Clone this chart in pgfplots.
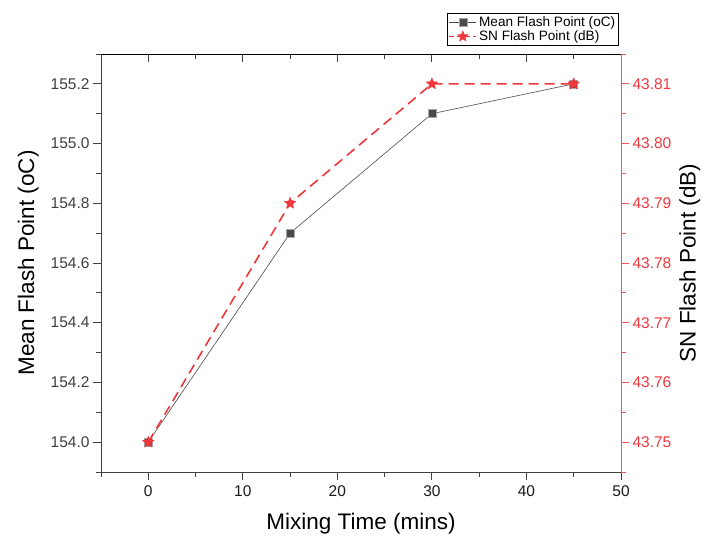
\documentclass[border=0pt]{standalone}
\usepackage{pgfplots}
\pgfplotsset{compat=1.18}
\usepackage{fontspec}
\setmainfont{Liberation Sans}
\definecolor{dgray}{RGB}{74,74,74}
\definecolor{myred}{RGB}{240,55,60}
\definecolor{axred}{RGB}{240,90,90}
\pgfdeclareplotmark{fstar}{%
  \pgfpathmoveto{\pgfpointpolar{90}{\pgfplotmarksize}}%
  \pgfpathlineto{\pgfpointpolar{126}{0.45\pgfplotmarksize}}%
  \pgfpathlineto{\pgfpointpolar{162}{\pgfplotmarksize}}%
  \pgfpathlineto{\pgfpointpolar{198}{0.45\pgfplotmarksize}}%
  \pgfpathlineto{\pgfpointpolar{234}{\pgfplotmarksize}}%
  \pgfpathlineto{\pgfpointpolar{270}{0.45\pgfplotmarksize}}%
  \pgfpathlineto{\pgfpointpolar{306}{\pgfplotmarksize}}%
  \pgfpathlineto{\pgfpointpolar{342}{0.45\pgfplotmarksize}}%
  \pgfpathlineto{\pgfpointpolar{18}{\pgfplotmarksize}}%
  \pgfpathlineto{\pgfpointpolar{54}{0.45\pgfplotmarksize}}%
  \pgfpathclose
  \pgfusepathqfillstroke}
\begin{document}
\begin{tikzpicture}
\pgfplotsset{every axis/.append style={
  width=520pt, height=418pt, scale only axis,
  xmin=-5, xmax=50,
  /pgf/number format/assume math mode=true,
  tick label style={font=\fontsize{15.5}{18}\selectfont},
  label style={font=\fontsize{22.5}{26}\selectfont},
  major tick length=8pt, minor tick length=5pt,
  tick align=outside,
}}
% main (left) axis
\begin{axis}[
  ymin=153.9, ymax=155.3,
  axis x line*=bottom, axis y line*=left,
  axis line style={black!75, line width=0.9pt},
  every tick/.style={black!75, line width=0.9pt},
  xtick={0,10,...,50}, minor xtick={-5,5,...,45},
  ytick={154.0,154.2,...,155.2}, minor ytick={153.9,154.1,...,155.3},
  yticklabel style={/pgf/number format/fixed, /pgf/number format/fixed zerofill, /pgf/number format/precision=1, text=black!75},
  xticklabel style={text=black!90, yshift=-2pt},
  xlabel={Mixing Time (mins)},
  xlabel style={yshift=-10pt},
  ylabel={Mean Flash Point (oC)},
  ylabel style={yshift=5pt},
  legend style={at={(1,1)}, anchor=south east, yshift=8pt, xshift=-2pt,
    draw=black, line width=0.6pt, font=\fontsize{13.6}{15}\selectfont,
    inner sep=1.5pt, row sep=-1.5pt, legend cell align=left},
  legend image code/.code={\draw[#1] (0cm,0cm) -- (0.95cm,0cm); \draw[#1, solid] plot coordinates {(0.475cm,0cm)};},
  clip=false,
]
\addplot[color=dgray, line width=0.6pt, mark=square*, mark size=4pt, mark options={fill=dgray, draw=black!35, line width=0.5pt}]
  coordinates {(0,154.0) (15,154.7) (30,155.1) (45,155.2)};
\addlegendentry{Mean Flash Point (oC)}
\addlegendimage{color=myred, dash pattern=on 5pt off 3pt, line width=1.6pt, mark=fstar, mark size=5.5pt, mark options={solid, fill=myred, line width=0.4pt}}
\addlegendentry{SN Flash Point (dB)}
\end{axis}
% top axis line with inward ticks
\begin{axis}[
  ymin=0, ymax=1,
  axis x line*=top, axis y line=none,
  tick align=inside,
  axis line style={black, line width=0.9pt},
  every tick/.style={black!75, line width=0.9pt},
  xtick={0,10,...,50}, minor xtick={-5,5,...,45},
  xticklabels={},
  clip=false,
]
\path ([shift={(-101pt,-67pt)}]rel axis cs:0,0) rectangle ([shift={(84pt,54pt)}]rel axis cs:1,1);
\end{axis}
% right axis
\begin{axis}[
  ymin=43.745, ymax=43.815,
  axis x line=none, axis y line*=right,
  axis line style={axred, line width=1pt},
  every tick/.style={axred, line width=0.9pt},
  ytick={43.75,43.76,...,43.81}, minor ytick={43.745,43.755,...,43.815},
  yticklabel style={/pgf/number format/fixed, /pgf/number format/fixed zerofill, /pgf/number format/precision=2, text=myred},
  ylabel={SN Flash Point (dB)},
  ylabel style={yshift=-1pt},
  clip=false,
]
\addplot[color=myred, dash pattern=on 10pt off 6pt, line width=1.6pt, mark=fstar, mark size=6pt, mark options={solid, fill=myred, line width=0.4pt}]
  coordinates {(0,43.75) (15,43.79) (30,43.81) (45,43.81)};
\end{axis}
\end{tikzpicture}
\end{document}
